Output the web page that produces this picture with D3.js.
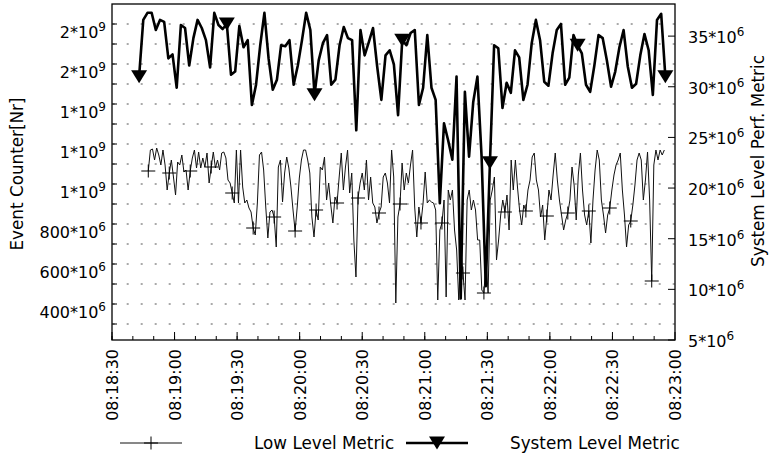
<!DOCTYPE html>
<html><head><meta charset="utf-8">
<script src="https://cdn.jsdelivr.net/npm/d3@7"></script>
<style>body{margin:0;background:#fff}svg{display:block}text{font-family:"DejaVu Sans",sans-serif;fill:#000}</style>
</head><body><svg id="c" width="769" height="459"></svg>
<script>
// ---- data (values in millions) ----
const lowStart = "08:18:47.4";
const lowStep = 1.006; // seconds between samples
const lowValues = [1105,1210,1215,1160,1220,1185,1135,1210,1135,1010,
1095,1160,1075,985,1150,1135,1185,1100,1110,1010,
1105,1170,1210,1120,1200,1120,1170,1125,1195,1045,
1125,1200,1120,1160,1110,1195,1200,1170,1060,1045,
995,945,1210,945,1210,1025,945,960,920,900,
820,785,945,1185,1200,1110,925,770,900,910,
875,725,1125,1160,950,1095,1175,1120,1025,910,
805,925,1070,1160,1210,1210,1160,1095,875,775,
910,860,1125,1110,1175,960,1045,935,845,975,
945,1075,1195,1010,1125,1210,995,1095,760,575,
970,1045,1095,1010,1160,960,1075,945,925,845,
895,925,1075,1095,1045,945,1210,1075,445,875,
940,1145,1010,1095,1045,1135,1210,925,775,925,
845,945,1100,945,960,950,945,910,460,810,
845,960,475,1010,960,1010,810,710,460,710,
595,460,960,1010,910,960,910,760,760,510,
495,660,495,960,1010,1075,660,760,885,960,
900,985,810,1160,1010,1160,1025,910,835,935,
905,1010,1060,1175,1195,1060,1010,875,935,760,
880,1010,960,1085,1195,1060,960,885,810,860,
895,960,1125,1035,860,1085,1195,1010,885,835,
905,745,960,1110,1210,1160,960,885,795,885,
920,1010,1085,1135,1160,1195,1010,885,725,835,
855,935,1035,1160,1195,1160,960,1060,1200,960,
555,1135,1210,1160,1210,1185,1210];
const sysStart = "08:18:43";
const sysStep = 2.003;
const sysValues = [31.0,36.6,37.3,37.3,35.6,36.6,36.4,32.8,33.2,29.9,
36.1,35.8,32.1,34.8,36.6,35.8,34.6,31.9,37.3,36.1,
35.7,36.2,31.2,31.5,36.0,33.9,34.6,28.2,30.2,34.1,
37.3,32.8,29.7,30.7,34.1,34.0,34.6,30.2,32.1,34.6,
37.3,35.6,29.2,32.6,34.3,35.1,30.2,30.7,34.1,35.9,
34.8,34.6,25.7,35.6,33.1,34.4,35.8,32.0,28.7,33.1,
33.6,32.2,27.2,34.6,34.1,35.3,35.6,28.2,29.9,35.1,
29.9,28.7,18.5,26.4,24.7,22.8,31.0,9.1,29.5,23.1,
28.5,31.0,23.1,10.3,22.5,34.1,33.8,27.9,30.4,29.4,
33.6,32.9,28.7,30.2,34.3,36.6,34.6,30.5,30.1,33.3,
35.6,36.2,30.2,30.9,35.1,34.1,33.3,30.2,29.5,32.1,
35.1,34.8,32.6,30.0,31.5,33.9,35.6,32.0,29.9,30.3,
33.1,35.2,33.6,29.2,36.6,37.2,31.0];
const lowMarkEvery = 10;
const sysMarkEvery = 21;
const xTickLabels = ["08:18:30","08:19:00","08:19:30","08:20:00","08:20:30","08:21:00","08:21:30","08:22:00","08:22:30","08:23:00"];
const leftTicks = [400,600,800,1000,1200,1400,1600,1800];
const leftTickLabels = [["400","6"],["600","6"],["800","6"],["1","9"],["1","9"],["1","9"],["2","9"],["2","9"]];
const leftGrid = [340,440,540,640,740,840,940,1040,1140,1240,1340,1440,1540,1640,1740,1840];
const rightTicks = [5,10,15,20,25,30,35];
const rightTickLabels = [["5","6"],["10","6"],["15","6"],["20","6"],["25","6"],["30","6"],["35","6"]];
const seriesNames = ["Low Level Metric","System Level Metric"];
const leftTitle = "Event Counter[Nr]";
const rightTitle = "System Level Perf. Metric";

// ---- helpers ----
function parseT(s){const p=s.split(":");const sec=+p[2];return new Date(2000,0,1,+p[0],+p[1],Math.floor(sec),Math.round((sec-Math.floor(sec))*1000));}
const L=112,R=675,T=4,B=340,FS=16,SFS=12,FT=16.8;
const svg=d3.select("#c");
const x=d3.scaleTime().domain([parseT("08:18:30"),parseT("08:23:00")]).range([L,R]);
const yL=d3.scaleLinear().domain([260,1940]).range([B,T]);
const yR=d3.scaleLinear().domain([5,38.17]).range([B,T]);
const low=lowValues.map((v,i)=>({t:new Date(parseT(lowStart).getTime()+i*lowStep*1000),v,i}));
const sys=sysValues.map((v,i)=>({t:new Date(parseT(sysStart).getTime()+i*sysStep*1000),v,i}));

// grid
svg.append("g").selectAll("line").data(leftGrid).join("line")
 .attr("x1",L).attr("x2",R).attr("y1",d=>yL(d)).attr("y2",d=>yL(d))
 .attr("stroke","#555").attr("stroke-width",1).attr("stroke-dasharray","2,12").attr("stroke-dashoffset",-0.7);

// lines
svg.append("path").datum(low).attr("fill","none").attr("stroke","#111").attr("stroke-width",1)
 .attr("d",d3.line().x(d=>x(d.t)).y(d=>yL(d.v)));
svg.append("path").datum(sys).attr("fill","none").attr("stroke","#000").attr("stroke-width",2.6).attr("stroke-linejoin","round")
 .attr("d",d3.line().x(d=>x(d.t)).y(d=>yR(d.v)));

// markers
const plus="M-7,0H7M0,-6.5V6.5";
const tri="M-8,-6.5L8,-6.5L0,6.5Z";
svg.append("g").selectAll("path").data(low.filter(d=>d.i%lowMarkEvery===0)).join("path")
 .attr("transform",d=>`translate(${x(d.t)},${yL(d.v)})`).attr("d",plus).attr("stroke","#000").attr("stroke-width",1).attr("fill","none");
svg.append("g").selectAll("path").data(sys.filter(d=>d.i%sysMarkEvery===0)).join("path")
 .attr("transform",d=>`translate(${x(d.t)},${yR(d.v)})`).attr("d",tri).attr("fill","#000");

// axes
const xTickVals=xTickLabels.map(parseT);
const xMinor=d3.timeSecond.every(10).range(parseT("08:18:30"),parseT("08:23:00"));
const ax=svg.append("g");
ax.selectAll("line.xm").data(xMinor).join("line").attr("x1",d=>x(d)).attr("x2",d=>x(d)).attr("y1",B).attr("y2",B-4).attr("stroke","#000");
ax.selectAll("line.xM").data(xTickVals).join("line").attr("x1",d=>x(d)).attr("x2",d=>x(d)).attr("y1",B).attr("y2",B-8).attr("stroke","#000");
ax.selectAll("line.yl").data(leftGrid).join("line").attr("x1",L).attr("x2",L+5).attr("y1",d=>yL(d)).attr("y2",d=>yL(d)).attr("stroke","#000");
ax.selectAll("line.yr").data(rightTicks).join("line").attr("x1",R).attr("x2",R-7).attr("y1",d=>yR(d)).attr("y2",d=>yR(d)).attr("stroke","#000");
svg.append("rect").attr("x",L).attr("y",T).attr("width",R-L).attr("height",B-T).attr("fill","none").attr("stroke","#000").attr("stroke-width",1.3);

// tick labels
xTickVals.forEach((d,i)=>{
 svg.append("text").attr("transform",`translate(${x(d)+6},${B+9}) rotate(-90)`).attr("text-anchor","end").attr("font-size",FS).text(xTickLabels[i]);
});
function supLabel(g,xx,yy,anchor,parts){
 const t=g.append("text").attr("x",xx).attr("y",yy).attr("text-anchor",anchor).attr("font-size",FS);
 t.append("tspan").text(parts[0]+"*10");
 t.append("tspan").attr("dy",-7).attr("font-size",SFS).text(parts[1]);
}
leftTicks.forEach((v,i)=>supLabel(svg,106,yL(v)+6,"end",leftTickLabels[i]));
rightTicks.forEach((v,i)=>supLabel(svg,688,yR(v)+7,"start",rightTickLabels[i]));

// titles
svg.append("text").attr("transform","translate(23,174) rotate(-90)").attr("text-anchor","middle").attr("font-size",FT).text(leftTitle);
svg.append("text").attr("transform","translate(764,161) rotate(-90)").attr("text-anchor","middle").attr("font-size",FT).text(rightTitle);

// legend
const ly=443;
const lg=svg.append("g");
lg.append("line").attr("x1",120).attr("x2",182).attr("y1",ly).attr("y2",ly).attr("stroke","#111");
lg.append("path").attr("transform",`translate(151,${ly})`).attr("d",plus).attr("stroke","#000").attr("fill","none");
lg.append("text").attr("x",254).attr("y",ly+6).attr("font-size",FT).text(seriesNames[0]);
lg.append("line").attr("x1",406).attr("x2",468).attr("y1",ly).attr("y2",ly).attr("stroke","#000").attr("stroke-width",2.6);
lg.append("path").attr("transform",`translate(437,${ly})`).attr("d",tri).attr("fill","#000");
lg.append("text").attr("x",510).attr("y",ly+6).attr("font-size",FT).text(seriesNames[1]);
</script></body></html>
